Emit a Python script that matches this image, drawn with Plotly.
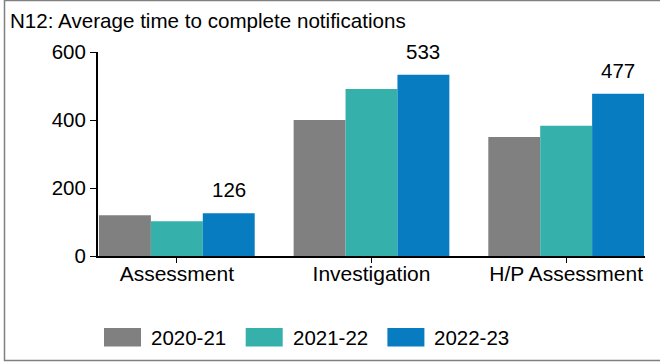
import plotly.graph_objects as go

# Categories and values (days) per reporting year
categories = ["Assessment", "Investigation", "H/P Assessment"]
years = ["2020-21", "2021-22", "2022-23"]
values_2020_21 = [120, 400, 350]
values_2021_22 = [102, 491, 383]
values_2022_23 = [126, 533, 477]
series_values = [values_2020_21, values_2021_22, values_2022_23]
colors = ["#808080", "#35B0AB", "#087CC1"]
y_ticks = [0, 200, 400, 600]

FONT = "Liberation Sans, Arial, sans-serif"
W, H = 660, 362
M_L, M_R, M_T, M_B = 98, 15, 52, 106
PLOT_W = W - M_L - M_R
PLOT_H = H - M_T - M_B


def px_x(px):
    return (px - M_L) / PLOT_W


def px_y(py):
    return (H - M_B - py) / PLOT_H


BARGAP = 0.2
fig = go.Figure()
for name, vals, col in zip(years, series_values, colors):
    fig.add_trace(go.Bar(
        x=categories, y=vals, name=name,
        marker=dict(color=col, line=dict(width=0)),
        showlegend=False,
    ))

# Value labels above the latest year's bars
n_series = len(years)
bar_w = (1 - BARGAP) / n_series
last_offset = (n_series - 1 - (n_series - 1) / 2) * bar_w
annotations = []
for i, v in enumerate(values_2022_23):
    annotations.append(dict(
        x=i + last_offset, y=v, xref="x", yref="y",
        text=str(v), showarrow=False, yanchor="bottom", yshift=10,
        font=dict(family=FONT, size=20.5, color="black"),
    ))

# Legend drawn as wide swatches with labels beneath the chart
shapes = []
sw_x0, sw_w, sw_h, step, sw_top = 104, 37, 18.5, 141.7, 328
for i, (name, col) in enumerate(zip(years, colors)):
    x0 = sw_x0 + i * step
    shapes.append(dict(
        type="rect", xref="paper", yref="paper",
        x0=px_x(x0), x1=px_x(x0 + sw_w),
        y0=px_y(sw_top + sw_h), y1=px_y(sw_top),
        fillcolor=col, line=dict(width=0),
    ))
    annotations.append(dict(
        x=px_x(x0 + sw_w + 8), y=px_y(sw_top + sw_h / 2),
        xref="paper", yref="paper", xanchor="left", yanchor="middle",
        text=name, showarrow=False,
        font=dict(family=FONT, size=20.5, color="black"),
    ))

# Outer frame around the chart
shapes.append(dict(
    type="rect", xref="paper", yref="paper",
    x0=px_x(4.5), x1=px_x(W + 3), y0=px_y(360.5), y1=px_y(0.5),
    line=dict(color="#808080", width=1.5), fillcolor="rgba(0,0,0,0)",
    layer="below",
))

fig.update_layout(
    width=W, height=H,
    margin=dict(l=M_L, r=M_R, t=M_T, b=M_B, pad=0),
    paper_bgcolor="white", plot_bgcolor="white",
    barmode="group", bargap=BARGAP, bargroupgap=0,
    font=dict(family=FONT, size=20, color="black"),
    title=dict(
        text="N12: Average time to complete notifications",
        xref="container", yref="container",
        x=10 / W, xanchor="left", y=1 - 20.5 / H, yanchor="middle",
        font=dict(family=FONT, size=20.6, color="black"),
    ),
    xaxis=dict(
        range=[-0.405, len(categories) - 1 + 0.405],
        showline=True, linecolor="black", linewidth=2,
        ticks="outside", ticklen=5, tickwidth=1, tickcolor="black",
        ticklabelstandoff=-7,
        tickfont=dict(family=FONT, size=21, color="black"),
        showgrid=False, zeroline=False,
    ),
    yaxis=dict(
        range=[0, 600], tickvals=y_ticks,
        showline=True, linecolor="black", linewidth=2,
        ticks="outside", ticklen=6, tickwidth=1, tickcolor="black",
        tickfont=dict(family=FONT, size=20.5, color="black"),
        showgrid=False, zeroline=False,
    ),
    annotations=annotations,
    shapes=shapes,
)

fig.write_html("out.html")
